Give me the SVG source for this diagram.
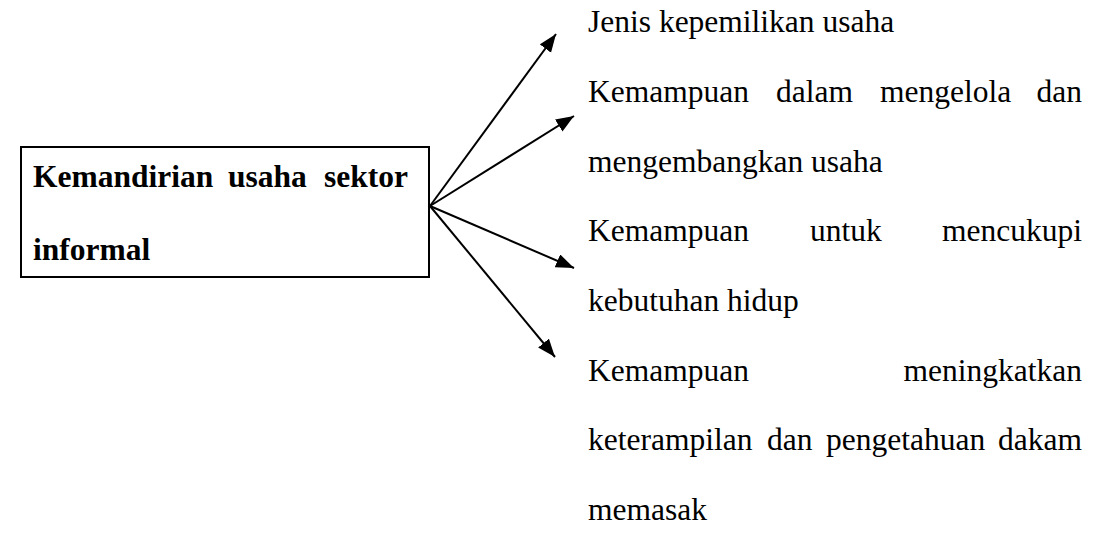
<svg xmlns="http://www.w3.org/2000/svg" width="1101" height="550" viewBox="0 0 1101 550">
<style>
text{font-family:"Liberation Serif","Times New Roman",serif;font-size:31.5px;fill:#000}
.b{font-weight:bold}
.e{text-anchor:end}
.c{stroke:#000;stroke-width:2;fill:none}
</style>
<defs>
<marker id="ah" markerUnits="userSpaceOnUse" markerWidth="20" markerHeight="16" refX="18" refY="7" orient="auto">
<path d="M0,0 L18,7 L0,14 Z" fill="#000"/>
</marker>
</defs>
<rect width="1101" height="550" fill="#fff"/>
<g id="main">
<rect x="21" y="147" width="408" height="130" fill="#fff" stroke="#000" stroke-width="2"/>
<text class="b" x="33" y="187">Kemandirian</text>
<text class="b" x="228" y="187">usaha</text>
<text class="b e" x="408" y="187">sektor</text>
<text class="b" x="33" y="260">informal</text>
</g>
<g id="connectors">
<line class="c" x1="430" y1="206" x2="556" y2="34" marker-end="url(#ah)"/>
<line class="c" x1="430" y1="206" x2="574" y2="116" marker-end="url(#ah)"/>
<line class="c" x1="430" y1="206" x2="574" y2="268" marker-end="url(#ah)"/>
<line class="c" x1="430" y1="206" x2="555" y2="357" marker-end="url(#ah)"/>
</g>
<g id="n1">
<text x="588" y="32">Jenis kepemilikan usaha</text>
</g>
<g id="n2">
<text x="588" y="102">Kemampuan</text>
<text x="776" y="102">dalam</text>
<text x="880" y="102">mengelola</text>
<text class="e" x="1082" y="102">dan</text>
<text x="588" y="172">mengembangkan usaha</text>
</g>
<g id="n3">
<text x="588" y="241">Kemampuan</text>
<text x="810" y="241">untuk</text>
<text class="e" x="1082" y="241">mencukupi</text>
<text x="588" y="311">kebutuhan hidup</text>
</g>
<g id="n4">
<text x="588" y="381">Kemampuan</text>
<text class="e" x="1082" y="381">meningkatkan</text>
<text x="588" y="450">keterampilan</text>
<text x="767" y="450">dan</text>
<text x="826" y="450">pengetahuan</text>
<text class="e" x="1082" y="450">dakam</text>
<text x="588" y="520">memasak</text>
</g>
</svg>
